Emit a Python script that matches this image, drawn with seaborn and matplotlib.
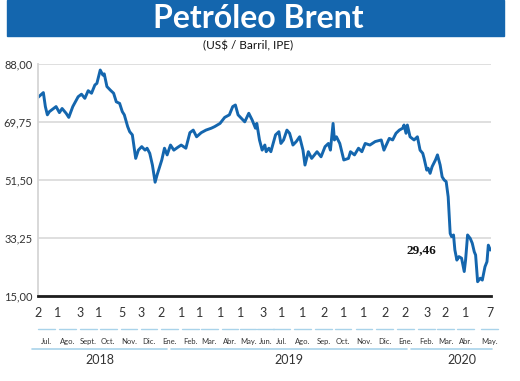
import matplotlib
matplotlib.use('Agg')
import matplotlib.pyplot as plt
import matplotlib.patches as patches
import matplotlib.dates as mdates
from matplotlib.lines import Line2D
import seaborn as sns
import pandas as pd

# Brent price
fechas = [
    '2018-07-02', '2018-07-10', '2018-07-13', '2018-07-16', '2018-07-19', '2018-07-29', '2018-08-03', '2018-08-07',
    '2018-08-13', '2018-08-17', '2018-08-23', '2018-08-31', '2018-09-05', '2018-09-10', '2018-09-15', '2018-09-20',
    '2018-09-25', '2018-09-28', '2018-10-03', '2018-10-07', '2018-10-09', '2018-10-13', '2018-10-18', '2018-10-23',
    '2018-10-27', '2018-11-01', '2018-11-05', '2018-11-08', '2018-11-13', '2018-11-16', '2018-11-20', '2018-11-25',
    '2018-11-29', '2018-12-04', '2018-12-09', '2018-12-12', '2018-12-16', '2018-12-20', '2018-12-24', '2018-12-27',
    '2019-01-03', '2019-01-07', '2019-01-11', '2019-01-16', '2019-01-21', '2019-01-27', '2019-02-01', '2019-02-08',
    '2019-02-14', '2019-02-19', '2019-02-24', '2019-03-03', '2019-03-10', '2019-03-18', '2019-03-23', '2019-03-31',
    '2019-04-07', '2019-04-14', '2019-04-19', '2019-04-23', '2019-04-27', '2019-05-02', '2019-05-07', '2019-05-13',
    '2019-05-18', '2019-05-23', '2019-05-25', '2019-05-29', '2019-06-02', '2019-06-06', '2019-06-08', '2019-06-12',
    '2019-06-15', '2019-06-22', '2019-06-27', '2019-06-30', '2019-07-04', '2019-07-09', '2019-07-13', '2019-07-18',
    '2019-07-23', '2019-07-28', '2019-08-02', '2019-08-05', '2019-08-10', '2019-08-15', '2019-08-23', '2019-08-29',
    '2019-09-04', '2019-09-09', '2019-09-12', '2019-09-16', '2019-09-18', '2019-09-21', '2019-09-26', '2019-10-02',
    '2019-10-09', '2019-10-12', '2019-10-18', '2019-10-24', '2019-10-29', '2019-11-03', '2019-11-10', '2019-11-18',
    '2019-11-27', '2019-12-01', '2019-12-09', '2019-12-14', '2019-12-19', '2019-12-24', '2019-12-29', '2019-12-31',
    '2020-01-03', '2020-01-05', '2020-01-09', '2020-01-15', '2020-01-20', '2020-01-24', '2020-01-28', '2020-01-30',
    '2020-02-03', '2020-02-05', '2020-02-08', '2020-02-11', '2020-02-16', '2020-02-19', '2020-02-23', '2020-02-26',
    '2020-02-29', '2020-03-03', '2020-03-06', '2020-03-08', '2020-03-09', '2020-03-11', '2020-03-14', '2020-03-16',
    '2020-03-19', '2020-03-22', '2020-03-26', '2020-03-30', '2020-04-01', '2020-04-04', '2020-04-08', '2020-04-11',
    '2020-04-14', '2020-04-16', '2020-04-19', '2020-04-23', '2020-04-26', '2020-04-30', '2020-05-03', '2020-05-05',
    '2020-05-08',
]
precios = [
    77.5, 79.0, 74.6, 72.0, 73.0, 74.6, 72.7, 74.0,
    72.5, 71.2, 74.6, 77.7, 78.5, 77.2, 79.6, 78.8,
    81.4, 81.9, 86.1, 84.5, 84.9, 80.9, 79.8, 78.8,
    76.1, 75.6, 73.0, 72.0, 68.3, 66.7, 65.7, 58.3,
    60.9, 62.0, 60.9, 61.5, 59.9, 56.2, 50.8, 53.1,
    57.8, 61.5, 59.4, 62.5, 60.9, 61.8, 62.5, 61.5,
    66.4, 67.2, 65.1, 66.4, 67.2, 67.8, 68.3, 69.3,
    71.2, 72.0, 74.6, 75.1, 72.0, 70.9, 69.8, 72.5,
    70.4, 67.8, 69.3, 64.1, 60.9, 62.5, 60.4, 61.5,
    60.4, 65.7, 66.7, 63.0, 64.1, 67.2, 66.2, 62.5,
    63.6, 65.1, 60.9, 56.2, 60.4, 58.3, 60.4, 58.8,
    62.0, 63.0, 60.9, 69.3, 64.1, 65.1, 63.0, 57.8,
    58.3, 60.4, 59.4, 61.5, 60.4, 63.0, 62.5, 63.6,
    64.1, 60.9, 64.6, 64.1, 66.2, 67.2, 67.8, 68.8,
    66.2, 68.8, 65.1, 64.1, 65.1, 60.9, 59.9, 58.3,
    54.6, 55.2, 53.6, 55.7, 57.8, 59.4, 56.2, 52.5,
    51.5, 51.0, 46.2, 38.9, 34.7, 33.7, 34.2, 29.5,
    26.3, 27.4, 26.9, 22.7, 26.3, 34.2, 33.1, 31.6,
    28.9, 27.9, 19.5, 20.6, 20.0, 24.2, 25.8, 31.0,
    29.46,
]

# x axis: day shown under each month and the month names
tick_fechas = ['2018-07-02', '2018-08-01', '2018-09-03', '2018-10-01', '2018-11-05', '2018-12-03',
               '2019-01-02', '2019-02-01', '2019-03-01', '2019-04-01', '2019-05-01', '2019-06-03',
               '2019-07-01', '2019-08-01', '2019-09-02', '2019-10-01', '2019-11-01', '2019-12-02',
               '2020-01-02', '2020-02-03', '2020-03-02', '2020-04-01', '2020-05-07']
meses = ['Jul.', 'Ago.', 'Sept.', 'Oct.', 'Nov.', 'Dic.', 'Ene.', 'Feb.', 'Mar.', 'Abr.', 'May.', 'Jun.',
         'Jul.', 'Ago.', 'Sep.', 'Oct.', 'Nov.', 'Dic.', 'Ene.', 'Feb.', 'Mar.', 'Abr.', 'May.']
anios = ['2018', '2019', '2020']
# year bars under the month row (start, end)
tramos_anio = [('2018-06-23', '2019-01-11'), ('2019-01-17', '2020-01-04'), ('2020-01-10', '2020-05-11')]
y_ticks = [15, 33.25, 51.5, 69.75, 88]

azul = '#1466ae'
celeste = '#a9d3ea'

sns.set_style('white')
plt.rcParams['font.family'] = ['Lato', 'DejaVu Sans']

df = pd.DataFrame({'fecha': pd.to_datetime(fechas), 'precio': precios})

fig = plt.figure(figsize=(5.2, 3.81), dpi=100)
ax = fig.add_axes([38 / 520, 1 - 296 / 381, 453 / 520, 232 / 381])

sns.lineplot(data=df, x='fecha', y='precio', ax=ax, color=azul, linewidth=2.1)

ax.set_xlim(pd.Timestamp('2018-07-02'), pd.Timestamp('2020-05-09'))
ax.set_ylim(15, 88)
ax.set_xlabel('')
ax.set_ylabel('')

# grid and spines
ax.yaxis.grid(True, color='#dcdcdc', linewidth=1.3)
ax.xaxis.grid(False)
ax.set_axisbelow(True)
for s in ['top', 'right']:
    ax.spines[s].set_visible(False)
ax.spines['left'].set_color('#d5d5d5')
ax.spines['left'].set_linewidth(1.3)
ax.spines['bottom'].set_color('#1e1e1e')
ax.spines['bottom'].set_linewidth(2.0)
ax.spines['bottom'].set_zorder(5)

ax.set_yticks(y_ticks)
ax.set_yticklabels([f'{v:.2f}'.replace('.', ',') for v in y_ticks])
ax.tick_params(axis='y', length=0, pad=4, labelsize=8, labelcolor='#333333')

ticks = pd.to_datetime(tick_fechas)
ax.set_xticks(ticks)
ax.set_xticklabels([str(d.day) for d in ticks])
ax.tick_params(axis='x', length=0, pad=8, labelsize=9, labelcolor='#333333')

# month names with light blue segments above them
trans = ax.get_xaxis_transform()
for i, (d, m) in enumerate(zip(ticks, meses)):
    if i < 10:
        xd = pd.Timestamp(d.year, d.month, 15)
    elif i == 10:
        xd = pd.Timestamp(d.year, d.month, 12)
    elif i == 11:
        xd = d + pd.Timedelta(days=4)
    else:
        xd = d
    xn = mdates.date2num(xd)
    ax.text(xn, -0.194, m, transform=trans, ha='center', va='center', fontsize=5.5, color='#333333')
    ax.add_line(Line2D([xn - 12.5, xn + 12.5], [-0.142, -0.142], transform=trans, clip_on=False,
                       color=celeste, linewidth=1.0))

# year bars and labels
for a, (ini, fin) in zip(anios, tramos_anio):
    x0 = mdates.date2num(pd.Timestamp(ini))
    x1 = mdates.date2num(pd.Timestamp(fin))
    ax.add_line(Line2D([x0, x1], [-0.228, -0.228], transform=trans, clip_on=False,
                       color=celeste, linewidth=1.2))
    xm = (x0 + x1) / 2 if a != '2020' else x0 + (x1 - x0) * 0.63
    ax.text(xm, -0.276, a, transform=trans, ha='center', va='center', fontsize=9, color='#333333')

# last value label
ax.annotate(f'{precios[-1]:.2f}'.replace('.', ','), xy=(df['fecha'].iloc[-1], precios[-1]),
            xytext=(-50, 0), textcoords='offset points', ha='center', va='center',
            fontfamily='Liberation Serif', fontweight='bold', fontsize=9.5, color='#111111')

# title banner
fig.add_artist(patches.Rectangle((7 / 520, 1 - 36 / 381), 497 / 520, 36 / 381,
                                 transform=fig.transFigure, color=azul, zorder=0))
fig.text(258 / 520, 1 - 18 / 381, 'Petróleo Brent', ha='center', va='center',
         color='white', fontsize=23, fontweight='bold')
fig.text(248 / 520, 1 - 46 / 381, '(US$ / Barril, IPE)', ha='center', va='center',
         color='#111111', fontsize=8.5)

fig.savefig('out.png', dpi=100)
